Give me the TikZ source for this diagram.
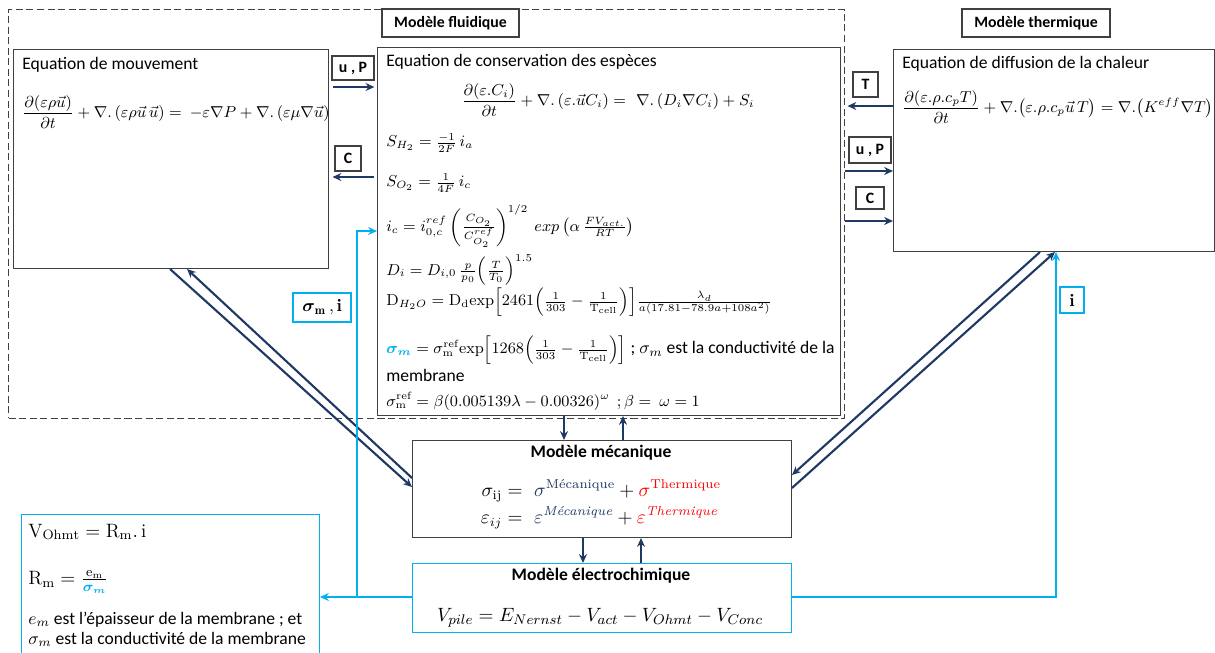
\documentclass[tikz,border=0pt]{standalone}
\usepackage{amsmath}
\usepackage{amssymb}
\usepackage{fontspec}
\setsansfont{Carlito}
\usepackage{xcolor}
\usetikzlibrary{arrows.meta}
\definecolor{navy}{RGB}{31,56,100}
\definecolor{elecblue}{RGB}{0,176,240}
\definecolor{framegray}{RGB}{64,64,64}
\tikzset{
    eq-box/.style = {draw=framegray, fill=white, line width=0.6pt, rectangle, anchor=north west, inner sep=0pt},
    elec-box/.style = {eq-box, draw=elecblue},
    frame-box/.style = {draw=framegray, dash pattern=on 4pt off 2pt, line width=0.6pt, anchor=north west, inner sep=0pt},
    tag-box/.style = {draw=framegray, fill=white, line width=0.6pt, font=\sffamily\bfseries\small, inner sep=0pt},
    tag-blue/.style = {tag-box, draw=elecblue},
    flow/.style = {draw=navy, line width=1.2pt, -{Stealth[length=5pt,width=4.5pt]}},
    elec-flow/.style = {draw=elecblue, line width=1.5pt, -{Stealth[length=5pt,width=4.5pt]}},
    txt/.style = {anchor=base west, font=\sffamily, inner sep=0pt},
    eq/.style = {anchor=west, font=\sffamily\small, inner sep=0pt},
}

\begin{document}
\begin{tikzpicture}[x=0.02cm, y=-0.02cm]
\useasboundingbox (0,0) rectangle (1215,653);

% cadres
\node[frame-box, minimum width=16.72cm, minimum height=8.18cm] (fluid) at (8,9) {};
\node[eq-box, minimum width=6.30cm, minimum height=4.38cm] (mvt) at (13,49) {};
\node[eq-box, minimum width=9.26cm, minimum height=7.36cm] (esp) at (377,47) {};
\node[eq-box, minimum width=6.42cm, minimum height=4.04cm] (chal) at (893,49) {};
\node[eq-box, minimum width=7.58cm, minimum height=1.94cm] (meca) at (412,440) {};
\node[elec-box, minimum width=7.58cm, minimum height=1.38cm] (elec) at (412,563) {};
\node[elec-box, minimum width=5.96cm, minimum height=2.92cm] (ohm) at (21,514) {};

\node[tag-box, minimum width=2.74cm, minimum height=0.56cm] (fluid-title) at (450.5,23) {Modèle fluidique};
\node[tag-box, minimum width=2.96cm, minimum height=0.56cm] (therm-title) at (1036,23) {Modèle thermique};

% modele fluidique
\node[txt] (mvt-title) at (22,69) {Equation de mouvement};
\node[eq] (mvt-eq) at (22,112) {$\dfrac{\partial(\varepsilon\rho\vec{u})}{\partial t}+\nabla.\,(\varepsilon\rho\vec{u}\,\vec{u})=\ -\varepsilon\nabla P+\nabla.\,(\varepsilon\mu\nabla\vec{u})$};

\node[txt] (esp-title) at (386,66) {Equation de conservation des espèces};
\node[inner sep=0pt, font=\small] (esp-eq) at (608,100) {$\dfrac{\partial(\varepsilon.C_i)}{\partial t}+\nabla.\,(\varepsilon.\vec{u}C_i)=\ \nabla.\,(D_i\nabla C_i)+S_i$};
\node[eq] (sh2) at (386,143) {$S_{H_2}=\frac{-1}{2F}\,i_a$};
\node[eq] (so2) at (386,183) {$S_{O_2}=\frac{1}{4F}\,i_c$};
\node[eq] (ic) at (386,226) {$i_c=i_{0,c}^{ref}\left(\frac{C_{O_2}}{C_{O_2}^{ref}}\right)^{1/2}\ exp\left(\alpha\,\frac{FV_{act.}}{RT}\right)$};
\node[eq] (di) at (386,270) {$D_i=D_{i,0}\,\frac{p}{p_0}\Big(\frac{T}{T_0}\Big)^{1.5}$};
\node[eq] (dh2o) at (386,302) {$\mathrm{D}_{H_2O}=\mathrm{D_d}\mathrm{exp}\Big[2461\Big(\frac{1}{303}-\frac{1}{\mathrm{T_{cell}}}\Big)\Big]\frac{\lambda_d}{a(17.81-78.9a+108a^2)}$};
\node[eq, font=\sffamily] (sigm) at (386,350) {{\small$\textcolor{elecblue}{\boldsymbol{\sigma_m}}=\sigma_{\mathrm{m}}^{\mathrm{ref}}\mathrm{exp}\Big[1268\Big(\frac{1}{303}-\frac{1}{\mathrm{T_{cell}}}\Big)\Big]$} ; $\sigma_m$ est la conductivité de la};
\node[txt] (sigm-b) at (386,381) {membrane};
\node[eq] (sigref) at (386,401) {$\sigma_{\mathrm{m}}^{\mathrm{ref}}=\beta(0.005139\lambda-0.00326)^{\omega}\ \ ;\beta=\ \omega=1$};

% modele thermique
\node[txt] (chal-title) at (902,68) {Equation de diffusion de la chaleur};
\node[eq] (chal-eq) at (902,107) {$\dfrac{\partial(\varepsilon.\rho.c_pT)}{\partial t}+\nabla.\big(\varepsilon.\rho.c_p\vec{u}\,T\big)=\nabla.\big(K^{eff}\nabla T\big)$};

% modele mecanique et electrochimique
\node[font=\sffamily\bfseries, inner sep=0pt] (meca-title) at (601,453) {Modèle mécanique};
\node[inner sep=0pt, font=\fontsize{10.5}{12}\selectfont] (meca-eq) at (601,505) {$\begin{aligned}\sigma_{\mathrm{ij}}&=\ \textcolor{navy}{\sigma^{\textrm{Mécanique}}}+\textcolor{red}{\sigma^{\textrm{Thermique}}}\\[-2pt] \varepsilon_{ij}&=\ \textcolor{navy}{\varepsilon^{\textit{Mécanique}}}+\textcolor{red}{\varepsilon^{\textit{Thermique}}}\end{aligned}$};
\node[font=\sffamily\bfseries, inner sep=0pt] (elec-title) at (601,576) {Modèle électrochimique};
\node[inner sep=0pt, font=\fontsize{10.8}{13}\selectfont] (elec-eq) at (600,618) {$V_{pile}=E_{Nernst}-V_{act}-V_{Ohmt}-V_{Conc}$};

\node[eq, font=\fontsize{11}{13}\selectfont] (ohm-v) at (28,532) {$\mathrm{V_{Ohmt}}=\mathrm{R_m}.\,\mathrm{i}$};
\node[eq, font=\fontsize{11}{13}\selectfont] (ohm-r) at (28,582) {$\mathrm{R_m}=\frac{\mathrm{e_m}}{\textcolor{elecblue}{\boldsymbol{\sigma_m}}}$};
\node[txt] (ohm-e) at (28,624) {$e_m$ est l’épaisseur de la membrane ; et};
\node[txt] (ohm-s) at (28,644) {$\sigma_m$ est la conductivité de la membrane};

% echanges
\node[tag-box, minimum width=0.84cm, minimum height=0.48cm] (up-l) at (353,68) {u , P};
\node[tag-box, minimum width=0.52cm, minimum height=0.50cm] (c-l) at (348,158.5) {C};
\node[tag-box, minimum width=0.50cm, minimum height=0.50cm] (t-r) at (865.5,84.5) {T};
\node[tag-box, minimum width=0.84cm, minimum height=0.52cm] (up-r) at (870,150) {u , P};
\node[tag-box, minimum width=0.56cm, minimum height=0.44cm] (c-r) at (870,198) {C};
\node[tag-blue, minimum width=1.16cm, minimum height=0.58cm, font=\normalsize] (sig-i) at (322,307.5) {$\boldsymbol{\sigma}_{\mathbf{m}}\,\mathbf{,i}$};
\node[tag-blue, minimum width=0.48cm, minimum height=0.52cm, font=\normalsize] (i-r) at (1072,300) {$\mathbf{i}$};

\draw[flow, shorten <=2pt, shorten >=1.5pt] (mvt.east |- 0,87) -- (esp.west |- 0,87);
\draw[flow, shorten <=1.5pt, shorten >=2pt] (esp.west |- 0,177) -- (mvt.east |- 0,177);
\draw[flow, shorten >=1.5pt] (chal.west |- 0,106) -- (fluid.east |- 0,106);
\draw[flow] (fluid.east |- 0,171) -- (chal.west |- 0,171);
\draw[flow] (fluid.east |- 0,221) -- (chal.west |- 0,221);

\draw[flow] (esp.south -| 564,0) -- (meca.north -| 564,0);
\draw[flow] (meca.north -| 623,0) -- (esp.south -| 623,0);
\draw[flow] (meca.south -| 583,0) -- (elec.north -| 583,0);
\draw[flow] (elec.north -| 641,0) -- (meca.south -| 641,0);

\draw[flow] (mvt.south -| 170,0) -- (meca.west |- 0,487);
\draw[flow] (meca.west |- 0,478) -- (mvt.south -| 187,0);
\draw[flow] (chal.south -| 1040,0) -- (meca.east |- 0,475);
\draw[flow] (meca.east |- 0,488) -- (chal.south -| 1055,0);

\coordinate (split) at (357,597);
\draw[elec-flow] (elec.west |- 0,597) -- (ohm.east |- 0,597);
\draw[elec-flow] (split) |- (esp.west |- 0,231);
\draw[elec-flow] (elec.east |- 0,597) -| (chal.south -| 1056,0);
\end{tikzpicture}
\end{document}
